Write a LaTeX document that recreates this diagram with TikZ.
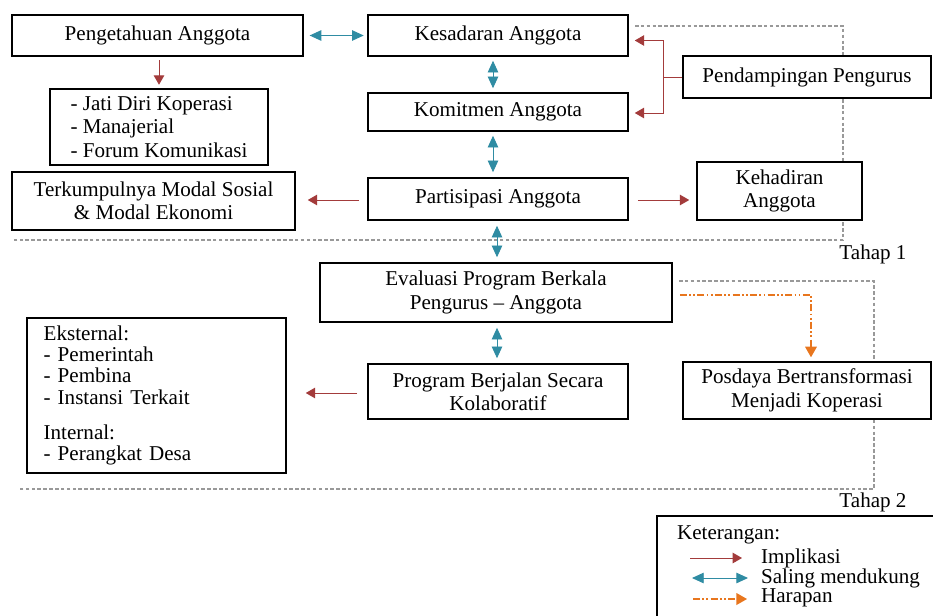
\documentclass[tikz,border=0pt]{standalone}
\usepackage{fontspec}
\setmainfont{Liberation Serif}
\usepackage{xcolor}
\usetikzlibrary{arrows.meta,positioning,backgrounds}

\definecolor{implred}{HTML}{A33B3B}
\definecolor{dukungteal}{HTML}{2F8CA3}
\definecolor{harapanorange}{HTML}{E8761E}

\begin{document}
\begin{tikzpicture}[
  x=0.03cm, y=-0.03cm,                      % 1 unit = 1 px of the sketch
  font=\fontsize{18}{20}\selectfont,
  box/.style       = {rectangle,
                      draw,
                      fill=white,
                      line width=1.3pt,
                      align=center,
                      inner sep=2pt},
  implikasi/.style = {draw=implred, line width=0.8pt,
                      -{Triangle[length=8pt,width=9pt]}},
  dukung/.style    = {draw=dukungteal, line width=0.8pt,
                      {Triangle[length=10pt,width=9pt]}-{Triangle[length=10pt,width=9pt]}},
  harapan/.style   = {draw=harapanorange, line width=1pt,
                      dash pattern=on 6pt off 2pt on 1.5pt off 2pt on 1.5pt off 2pt,
                      -{Triangle[length=9pt,width=10pt]}},
  tahap/.style     = {draw=gray!80, line width=0.9pt,
                      dash pattern=on 3pt off 2pt}
]
\useasboundingbox (0,0) rectangle (933,615);

% tahap 1
\node[box, minimum width=8.73cm, minimum height=1.23cm] (peng) at (157.5,35.5) {Pengetahuan Anggota};
\node[box, minimum width=7.8cm,  minimum height=1.23cm] (kes)  at (498,35.5)   {Kesadaran Anggota};
\node[box, minimum width=7.8cm,  minimum height=1.14cm] (kom)  at (498,112)    {Komitmen Anggota};
\node[box, minimum width=7.8cm,  minimum height=1.26cm] (par)  at (498,199)    {Partisipasi Anggota};
\node[box, align=left, minimum width=6.54cm, minimum height=2.28cm] (jati) at (159,127)
  {- Jati Diri Koperasi\\- Manajerial\\- Forum Komunikasi};
\node[box, minimum width=8.49cm, minimum height=1.74cm] (modal) at (153.5,201)
  {Terkumpulnya Modal Sosial\\\& Modal Ekonomi};
\node[box, minimum width=7.44cm, minimum height=1.26cm] (pend) at (807,77)   {Pendampingan Pengurus};
\node[box, minimum width=4.95cm, minimum height=1.74cm] (hadir) at (779.5,191) {Kehadiran\\Anggota};
\node (tahap1) at (873,254) {Tahap 1};

% tahap 2
\node[box, minimum width=10.56cm, minimum height=1.77cm] (eval) at (496,292.5)
  {Evaluasi Program Berkala\\Pengurus -- Anggota};
\node[box, minimum width=7.8cm, minimum height=1.65cm] (prog) at (498,391.5)
  {Program Berjalan Secara\\Kolaboratif};
\node[box, font=\fontsize{18}{18}\selectfont, align=left, text width=6.77cm,
      inner xsep=0.5cm, minimum height=4.65cm] (mitra) at (156.5,395.5)
  {Eksternal:\\- Pemerintah\\- Pembina\\- Instansi Terkait\\[12pt]Internal:\\- Perangkat Desa};
\node[box, minimum width=7.44cm, minimum height=1.71cm] (posd) at (807,390.5)
  {Posdaya Bertransformasi\\Menjadi Koperasi};
\node (tahap2) at (873,502) {Tahap 2};

% dashed stage frames
\begin{scope}[on background layer]
  \draw[tahap] (635,26) -- (843,26) -- (843,240) -- (12,240);
  \draw[tahap] (679,281) -- (874,281) -- (874,489) -- (18,489);
\end{scope}

% connectors
\draw[dukung]    ([xshift=5pt]peng.east) -- ([xshift=-3pt]kes.west);
\draw[implikasi] ([yshift=-3pt]peng.south -| jati.north) -- ([yshift=3pt]jati.north);
\draw[dukung]    ([shift={(-5,4)}]kes.south) -- ([shift={(-5,-4)}]kom.north);
\draw[dukung]    ([shift={(-5,4)}]kom.south) -- ([shift={(-5,-5)}]par.north);
\draw[dukung]    ([shift={(-1,5)}]par.south) -- ([shift={(-1,-5)}]par.south |- eval.north);
\draw[dukung]    ([shift={(1,5)}]eval.south) -- ([shift={(1,-5)}]eval.south |- prog.north);
\draw[implikasi] ([shift={(-8,1)}]par.west) -- ([shift={(12,1)}]modal.east |- par.west);
\draw[implikasi] ([shift={(9,1)}]par.east) -- ([shift={(-7,1)}]hadir.west |- par.east);
\coordinate (split) at (663,77);
\draw[implikasi] (pend.west) -- (split) |- ([shift={(6,5)}]kes.east);
\draw[implikasi] (split) |- ([shift={(6,1)}]kom.east);
\draw[implikasi] ([shift={(-10,1.5)}]prog.west) -- ([shift={(19,1.5)}]mitra.east |- prog.west);
\draw[harapan]   ([shift={(7,2.5)}]eval.east) -| ([shift={(4,-4)}]posd.north);

% legend
\node[box, minimum width=8.64cm, minimum height=3.42cm] (legend) at (801,573) {};
\node[anchor=west] (ket) at (673,535) {Keterangan:};
\node[anchor=west] (lgimpl)   at (757,558) {Implikasi};
\node[anchor=west] (lgdukung) at (757,578) {Saling mendukung};
\node[anchor=west] (lgharap)  at (757,598) {Harapan};
\coordinate (impA) at (690,558);  \coordinate (impB) at (742,558);
\coordinate (dukA) at (692,578);  \coordinate (dukB) at (748,578);
\coordinate (harA) at (693,599);  \coordinate (harB) at (747,599);
\draw[implikasi] (impA) -- (impB);
\draw[dukung]    (dukA) -- (dukB);
\draw[harapan]   (harA) -- (harB);

\end{tikzpicture}
\end{document}
